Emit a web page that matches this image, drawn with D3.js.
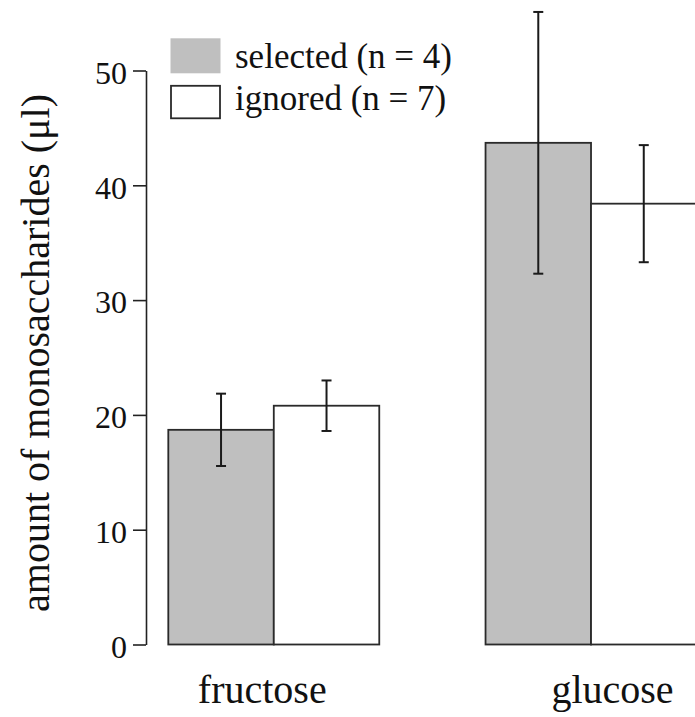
<!DOCTYPE html>
<html>
<head>
<meta charset="utf-8">
<script src="https://cdn.jsdelivr.net/npm/d3@7"></script>
<style>
  html, body { margin: 0; padding: 0; background: #fff; }
  svg { display: block; }
</style>
</head>
<body>
<svg id="chart" width="695" height="717"></svg>
<script>
// Monosaccharide amounts (mean ± error) per sugar and group
const categories = ["fructose", "glucose"];
const groups = ["selected", "ignored"];
const legendLabels = ["selected (n = 4)", "ignored (n = 7)"];
const selectedMeans = [18.7, 43.7];
const selectedErrors = [3.15, 11.4];
const ignoredMeans = [20.8, 38.4];
const ignoredErrors = [2.2, 5.1];
const yTicks = [0, 10, 20, 30, 40, 50];
const yTitle = "amount of monosaccharides (μl)";

const FONT = "'Liberation Serif', 'Times New Roman', serif";
const svg = d3.select("#chart");
const fills = { selected: "#bfbfbf", ignored: "#ffffff" };

const rows = [];
categories.forEach((c, i) => {
  rows.push({ cat: c, grp: "selected", mean: selectedMeans[i], err: selectedErrors[i] });
  rows.push({ cat: c, grp: "ignored", mean: ignoredMeans[i], err: ignoredErrors[i] });
});

const y = d3.scaleLinear().domain([0, 50]).range([644.5, 70.5]);
const x0 = d3.scaleBand().domain(categories).range([168.3, 696.5]).paddingInner(0.335).paddingOuter(0);
const x1 = d3.scaleBand().domain(groups).range([0, x0.bandwidth()]);

// y axis
const yAxis = d3.axisLeft(y).tickValues(yTicks).tickSize(13).tickPadding(6).tickSizeOuter(0);
const gy = svg.append("g").attr("transform", "translate(146,0)").call(yAxis);
gy.select(".domain").attr("stroke", "#222").attr("stroke-width", 1.6);
gy.selectAll(".tick line").attr("stroke", "#222").attr("stroke-width", 1.6);
gy.selectAll(".tick text")
  .style("font-family", FONT)
  .style("font-size", "32px")
  .attr("fill", "#111")
  .attr("dy", "0.4em");

svg.append("text")
  .attr("transform", "translate(49,353) rotate(-90)")
  .attr("text-anchor", "middle")
  .style("font-family", FONT)
  .style("font-size", "40px")
  .attr("fill", "#111")
  .text(yTitle);

// bars
svg.append("g").selectAll("rect").data(rows).join("rect")
  .attr("x", d => x0(d.cat) + x1(d.grp))
  .attr("y", d => y(d.mean))
  .attr("width", x1.bandwidth())
  .attr("height", d => y(0) - y(d.mean))
  .attr("fill", d => fills[d.grp])
  .attr("stroke", "#2a2a2a")
  .attr("stroke-width", 1.8);

// error bars
const eb = svg.append("g").attr("stroke", "#1a1a1a").attr("stroke-width", 2);
rows.forEach(d => {
  const cx = x0(d.cat) + x1(d.grp) + x1.bandwidth() / 2;
  eb.append("line").attr("x1", cx).attr("x2", cx).attr("y1", y(d.mean + d.err)).attr("y2", y(d.mean - d.err));
  [d.mean + d.err, d.mean - d.err].forEach(v => {
    eb.append("line").attr("x1", cx - 5).attr("x2", cx + 5).attr("y1", y(v)).attr("y2", y(v));
  });
});

// category labels
const labelShift = { fructose: -11.5, glucose: 21.5 };
svg.append("g").selectAll("text").data(categories).join("text")
  .attr("x", d => x0(d) + x0.bandwidth() / 2 + labelShift[d])
  .attr("y", 703)
  .attr("text-anchor", "middle")
  .style("font-family", FONT)
  .style("font-size", "40px")
  .attr("fill", "#111")
  .text(d => d);

// legend
const legend = svg.append("g");
groups.forEach((g, i) => {
  const ly = 38.3 + i * 47.5;
  legend.append("rect")
    .attr("x", g === "selected" ? 170.5 : 171)
    .attr("y", ly)
    .attr("width", g === "selected" ? 50 : 49)
    .attr("height", g === "selected" ? 35 : 32.5)
    .attr("fill", fills[g])
    .attr("stroke", g === "selected" ? "none" : "#2a2a2a")
    .attr("stroke-width", 1.8);
  legend.append("text")
    .attr("x", 235)
    .attr("y", g === "selected" ? 68.3 : 110)
    .style("font-family", FONT)
    .style("font-size", "35px")
    .attr("fill", "#111")
    .text(legendLabels[i]);
});
</script>
</body>
</html>
